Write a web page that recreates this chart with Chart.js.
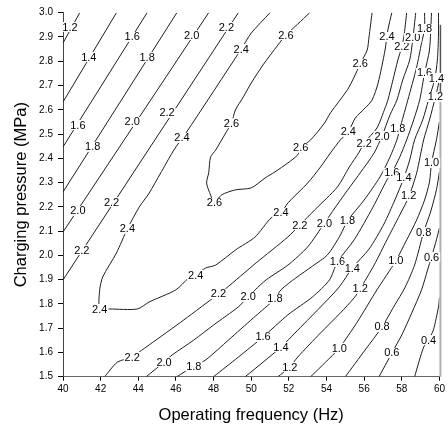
<!DOCTYPE html>
<html><head><meta charset="utf-8">
<script src="https://cdn.jsdelivr.net/npm/chart.js@4.4.0/dist/chart.umd.min.js"></script>
<style>html,body{margin:0;padding:0;background:#fff;}canvas{display:block;}</style>
</head><body>
<canvas id="c" width="448" height="428"></canvas>
<script>
// ---- data (frequency Hz, charging pressure MPa) ----
const xRange = [40, 60];
const yRange = [1.5, 3.0];
const xStep = 2;
const yStep = 0.1;

// upper-left family (straight contours)
const c12a = [[40.0,2.875],[40.89,3.0]];
const c14a = [[40.0,2.632],[42.84,3.0]];
const c16a = [[40.0,2.447],[44.47,3.0]];
const c18a = [[40.0,2.261],[46.05,3.0]];
const c20a = [[40.0,2.096],[47.74,3.0]];
const c22a = [[40.0,1.899],[49.32,3.0]];

// ridge contours
const c24 = [[51.0,3.0],[50.0,2.916],[49.47,2.85],[46.53,2.504],[45.89,2.434],[44.58,2.257],[44.05,2.199],[43.42,2.109],[42.84,2.010],[42.11,1.911],[41.95,1.858],[41.95,1.779],[42.47,1.779],[43.95,1.779],[44.58,1.808],[46.0,1.858],[46.68,1.907],[47.05,1.919],[47.58,1.948],[48.11,1.960],[49.16,2.022],[50.21,2.076],[51.05,2.154],[51.58,2.175],[51.95,2.216],[53.0,2.298],[53.68,2.364],[54.21,2.422],[54.74,2.476],[55.16,2.509],[55.53,2.566],[56.05,2.607],[56.42,2.640],[56.74,2.710],[57.11,2.846],[57.26,2.929],[57.47,3.0]];
const c26 = [[53.11,3.0],[52.47,2.953],[51.84,2.908],[51.42,2.867],[50.63,2.785],[50.0,2.710],[49.58,2.653],[49.16,2.599],[48.95,2.545],[48.68,2.509],[48.11,2.434],[47.84,2.405],[47.74,2.340],[47.63,2.298],[47.84,2.249],[48.05,2.216],[48.42,2.249],[49.16,2.270],[50.0,2.278],[50.74,2.319],[51.26,2.344],[51.95,2.381],[52.47,2.414],[52.63,2.443],[53.16,2.476],[53.89,2.545],[54.21,2.587],[55.11,2.682],[55.47,2.735],[55.79,2.789],[56.16,2.846],[56.26,2.90],[56.42,3.0]];

// lower-right family
const c22b = [[42.21,1.5],[42.89,1.560],[43.68,1.581],[44.05,1.602],[44.58,1.631],[46.42,1.734],[48.26,1.841],[48.63,1.862],[50.26,1.969],[51.95,2.076],[52.58,2.125],[53.37,2.187],[54.58,2.282],[55.21,2.364],[55.74,2.426],[56.0,2.463],[56.68,2.525],[57.11,2.607],[57.26,2.640],[57.53,2.723],[57.79,2.805],[58.0,2.859],[58.11,2.90],[58.26,3.0]];
const c20b = [[44.42,1.5],[45.37,1.56],[45.79,1.589],[46.95,1.651],[48.0,1.713],[49.32,1.788],[49.84,1.829],[50.21,1.858],[50.79,1.899],[51.95,1.960],[53.0,2.035],[53.89,2.133],[54.74,2.228],[55.79,2.340],[56.53,2.422],[56.95,2.492],[57.37,2.578],[57.74,2.640],[58.05,2.723],[58.42,2.805],[58.58,2.888],[58.74,3.0]];
const c18b = [[46.05,1.5],[46.95,1.544],[47.58,1.569],[48.79,1.651],[50.11,1.742],[51.26,1.821],[51.58,1.858],[52.37,1.907],[53.26,1.956],[54.05,2.002],[54.74,2.084],[55.11,2.142],[56.0,2.228],[56.84,2.323],[57.37,2.405],[57.74,2.476],[57.95,2.537],[58.32,2.640],[58.79,2.776],[59.05,2.875],[59.21,2.933],[59.21,3.0]];
const c16b = [[48.0,1.5],[49.32,1.581],[50.63,1.664],[51.95,1.755],[53.26,1.829],[54.16,1.899],[54.58,1.973],[55.47,2.064],[56.47,2.199],[57.21,2.311],[57.47,2.340],[57.89,2.405],[58.26,2.476],[58.63,2.558],[58.95,2.640],[59.21,2.752],[59.47,2.846],[59.58,3.0]];
const c14b = [[49.68,1.5],[50.63,1.56],[51.58,1.622],[52.74,1.713],[53.79,1.796],[54.68,1.870],[55.37,1.948],[56.26,2.026],[57.05,2.129],[57.63,2.228],[58.11,2.319],[58.42,2.393],[58.68,2.476],[59.11,2.558],[59.42,2.640],[59.74,2.723],[59.89,2.805],[59.95,2.908],[59.95,3.0]];
const c12b = [[51.42,1.5],[52.05,1.54],[52.47,1.581],[53.68,1.680],[54.74,1.763],[55.47,1.825],[55.79,1.862],[56.53,1.960],[57.21,2.064],[57.89,2.166],[58.37,2.241],[58.79,2.340],[59.16,2.476],[59.47,2.558],[59.79,2.653],[60.0,2.723]];
const c10 = [[53.16,1.5],[53.95,1.56],[54.68,1.618],[55.63,1.725],[56.68,1.858],[57.68,1.977],[58.26,2.064],[58.79,2.146],[59.21,2.228],[59.47,2.302],[59.58,2.381],[59.84,2.476],[60.0,2.550]];
const c08 = [[55.0,1.5],[56.05,1.610],[56.95,1.705],[57.63,1.796],[58.16,1.866],[58.68,1.960],[59.16,2.096],[59.53,2.179],[59.84,2.270],[60.0,2.344]];
const c06 = [[56.79,1.5],[57.21,1.56],[57.47,1.598],[58.0,1.672],[58.53,1.763],[59.05,1.858],[59.37,1.940],[59.58,1.993],[59.84,2.064],[60.0,2.113]];
const c04 = [[58.68,1.5],[59.16,1.622],[59.42,1.651],[59.68,1.693],[59.95,1.788],[60.0,1.825]];

const contours = [c12a,c14a,c16a,c18a,c20a,c22a,c24,c26,c22b,c20b,c18b,c16b,c14b,c12b,c10,c08,c06,c04];

// inline contour labels: [text, frequency, pressure]
const contourLabels = [
  ['1.2',40.37,2.941],['1.4',41.37,2.817],['1.6',40.79,2.537],['1.6',43.68,2.90],
  ['1.8',41.58,2.447],['1.8',44.47,2.817],
  ['2.0',40.79,2.183],['2.0',43.68,2.55],['2.0',46.84,2.908],
  ['2.2',41.0,2.022],['2.2',42.58,2.22],['2.2',45.53,2.587],['2.2',48.68,2.941],
  ['2.4',49.47,2.85],['2.4',46.32,2.484],['2.4',43.42,2.109],['2.4',41.95,1.779],['2.4',47.05,1.919],['2.4',51.58,2.175],['2.4',55.16,2.509],['2.4',57.21,2.90],
  ['2.6',51.84,2.908],['2.6',48.95,2.545],['2.6',48.05,2.216],['2.6',52.63,2.443],['2.6',55.79,2.789],
  ['2.2',43.68,1.581],['2.2',48.26,1.841],['2.2',52.58,2.125],['2.2',56.0,2.463],['2.2',58.0,2.859],
  ['2.0',45.37,1.560],['2.0',49.84,1.829],['2.0',53.89,2.133],['2.0',56.95,2.492],['2.0',58.58,2.896],
  ['1.8',46.95,1.544],['1.8',51.26,1.821],['1.8',55.11,2.142],['1.8',57.79,2.521],['1.8',59.21,2.933],
  ['1.6',50.63,1.664],['1.6',54.58,1.973],['1.6',57.47,2.340],['1.6',59.21,2.752],
  ['1.4',51.58,1.622],['1.4',55.37,1.948],['1.4',58.11,2.319],['1.4',59.84,2.731],
  ['1.2',52.05,1.540],['1.2',55.79,1.862],['1.2',58.37,2.245],['1.2',59.79,2.653],
  ['1.0',54.68,1.618],['1.0',57.68,1.977],['1.0',59.58,2.381],
  ['0.8',56.95,1.705],['0.8',59.16,2.096],
  ['0.6',57.47,1.598],['0.6',59.58,1.993],
  ['0.4',59.42,1.651]
];

const FONT = "'Liberation Sans', Arial, Helvetica, sans-serif";
Chart.defaults.font.family = FONT;
Chart.defaults.color = '#000';

const datasets = contours.map(c => ({
  data: c.map(([x, y]) => ({x, y})),
  showLine: true,
  pointRadius: 0,
  borderColor: '#1e1e1e',
  borderWidth: 1,
  tension: c.length > 3 ? 0.25 : 0,
  fill: false
}));

const decor = {
  id: 'decor',
  afterDatasetsDraw(chart) {
    const {ctx, scales: {x, y}, chartArea: a} = chart;
    ctx.save();
    // partial right frame
    ctx.strokeStyle = '#555'; ctx.lineWidth = 1.5;
    ctx.beginPath(); ctx.moveTo(a.right + 1, y.getPixelForValue(2.95)); ctx.lineTo(a.right + 1, y.getPixelForValue(2.64)); ctx.stroke();
    ctx.strokeStyle = '#b0b0b0'; ctx.lineWidth = 2;
    ctx.beginPath(); ctx.moveTo(a.right + 1, y.getPixelForValue(2.64)); ctx.lineTo(a.right + 1, a.bottom); ctx.stroke();
    // labels
    ctx.font = '11px ' + FONT;
    ctx.textAlign = 'center'; ctx.textBaseline = 'middle';
    contourLabels.forEach(([t, f, p]) => {
      const px = x.getPixelForValue(f), py = y.getPixelForValue(p);
      const w = ctx.measureText(t).width;
      ctx.fillStyle = '#fff';
      ctx.fillRect(px - w / 2 - 1, py - 5, w + 2, 10);
      ctx.fillStyle = '#000';
      ctx.fillText(t, px, py + 0.5);
    });
    ctx.restore();
  }
};

new Chart(document.getElementById('c'), {
  type: 'scatter',
  data: { datasets },
  options: {
    responsive: false,
    devicePixelRatio: 1,
    animation: false,
    layout: { padding: { top: 12.7, right: 5, left: 0, bottom: 0 } },
    plugins: { legend: { display: false }, tooltip: { enabled: false } },
    scales: {
      x: {
        type: 'linear', min: xRange[0], max: xRange[1],
        ticks: { stepSize: xStep, font: { size: 10 }, color: '#000', padding: 3, maxRotation: 0, autoSkip: false, callback: v => String(v) },
        grid: { drawOnChartArea: false, drawTicks: true, tickLength: 4, color: '#000' },
        border: { display: true, color: '#666', width: 1 },
        title: { display: true, text: 'Operating frequency (Hz)', font: { size: 16.5 }, color: '#000', padding: { top: 0, bottom: 3 } },
        afterFit: s => { s.height = 51.3; }
      },
      y: {
        type: 'linear', min: yRange[0], max: yRange[1],
        ticks: { stepSize: yStep, font: { size: 10 }, color: '#000', padding: 5, autoSkip: false, callback: v => v.toFixed(1) },
        grid: { drawOnChartArea: false, drawTicks: true, tickLength: 5, color: '#000' },
        border: { display: true, color: '#444', width: 1 },
        title: { display: true, text: 'Charging pressure (MPa)', font: { size: 16.5 }, color: '#000', padding: { top: 12, bottom: 0 } },
        afterFit: s => { s.width = 63; }
      }
    }
  },
  plugins: [decor]
});
</script>
</body></html>
